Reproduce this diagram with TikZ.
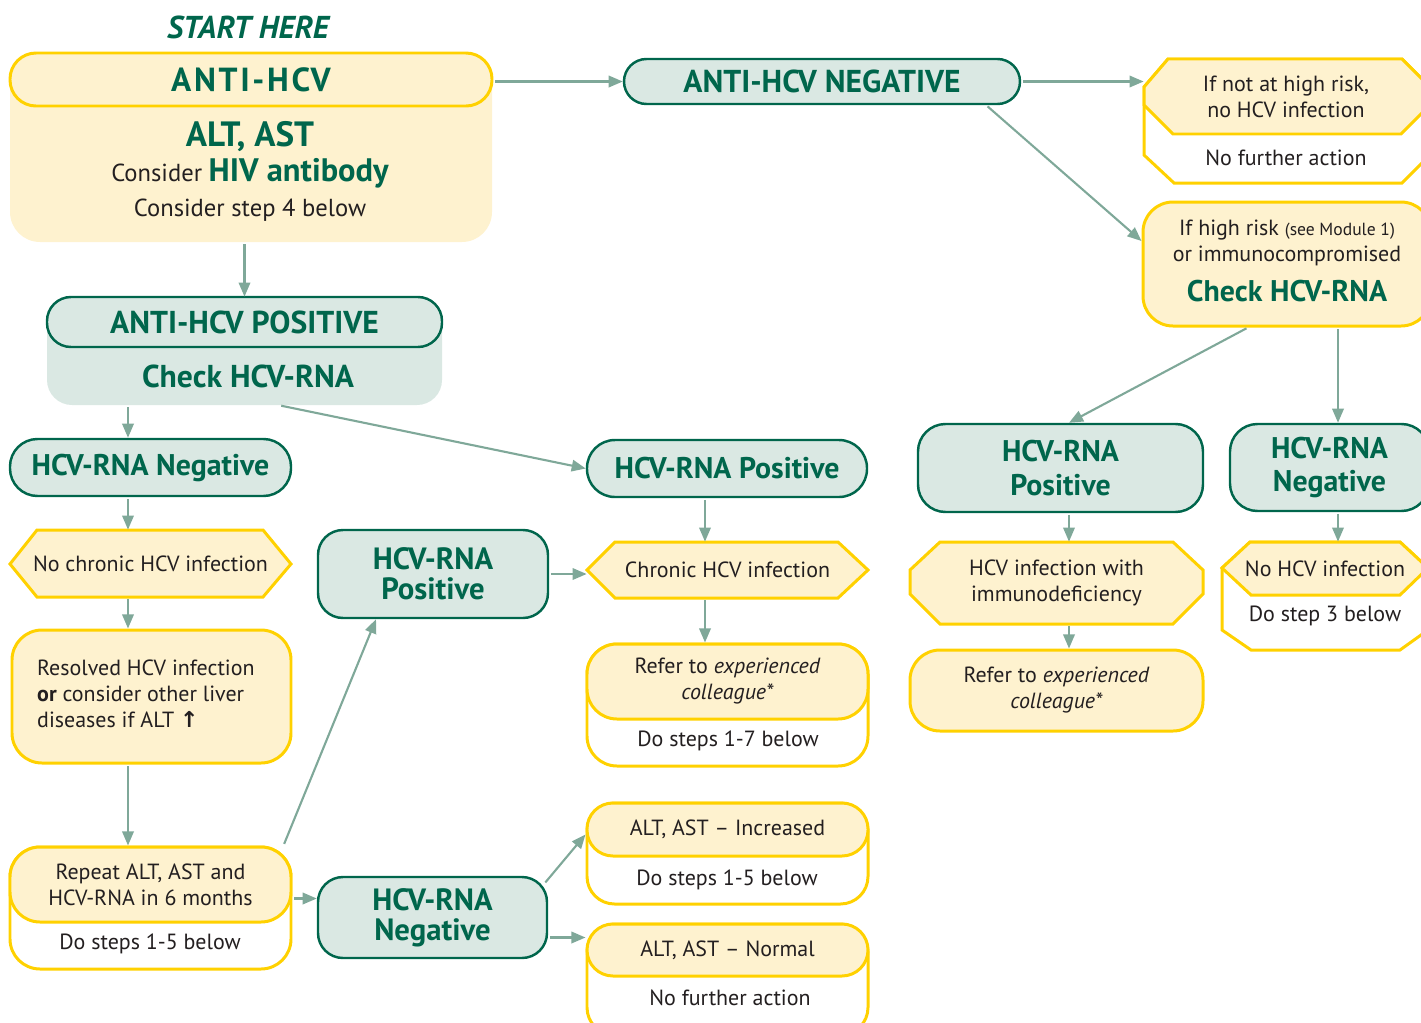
\documentclass[tikz,border=0pt]{standalone}
\usepackage{fontspec}
\setmainfont{PT Sans}
\newfontfamily\arrowfont{DejaVu Sans}
\usetikzlibrary{arrows.meta,fit}

\definecolor{hcvgreen}{HTML}{00664C}
\definecolor{arrowgreen}{HTML}{7FA899}
\definecolor{boxyellow}{HTML}{FEF2CF}
\definecolor{lineyellow}{HTML}{FFD100}
\definecolor{tealfill}{HTML}{DAE8E3}
\definecolor{textdark}{HTML}{231F20}

\tikzset{
  arr/.style={draw=arrowgreen, line width=1.2pt, shorten <=1pt, -{Triangle[length=8pt,width=6.5pt]}},
  yelbox/.style={draw=lineyellow, line width=1.7pt, fill=boxyellow, inner sep=0pt},
  whitebox/.style={draw=lineyellow, line width=1.7pt, fill=white, inner sep=0pt},
  tealbox/.style={draw=hcvgreen, line width=1.4pt, fill=tealfill, inner sep=0pt},
  bigtxt/.style={text=hcvgreen, font=\bfseries\fontsize{17}{19}\selectfont, align=center},
  txt/.style={text=textdark, font=\fontsize{12.5}{14.8}\selectfont, align=center},
}

\begin{document}
\begin{tikzpicture}[x=0.02cm, y=-0.02cm]
  \clip (0,0) rectangle (1421,1022);

  % start
  \node[text=hcvgreen, font=\bfseries\itshape\fontsize{18}{20}\selectfont] (start) at (248,27) {START HERE};

  % anti-hcv
  \node[fill=boxyellow, rounded corners=0.6cm, inner sep=0pt, fit={(10,53) (492,242)}] (anti) {};
  \node[yelbox, rounded corners=0.52cm, fit={(10,53) (492,106)}] (antihdr) {};
  \node[bigtxt, font=\bfseries\fontsize{19}{21}\selectfont\addfontfeature{LetterSpace=8}] (antihdrtxt) at (antihdr) {ANTI-HCV};
  \node[bigtxt, font=\bfseries\fontsize{20}{22}\selectfont] (altast) at (250,137) {ALT, AST};
  \node[txt, font=\fontsize{14}{16}\selectfont] (hivab) at (250,173) {Consider {\color{hcvgreen}\bfseries\fontsize{18.5}{20}\selectfont HIV antibody}};
  \node[txt, font=\fontsize{14}{16}\selectfont] (stepfour) at (250,210) {Consider step 4 below};

  % anti-hcv negative
  \node[tealbox, rounded corners=0.45cm, fit={(624,59) (1020,104)}] (antineg) {};
  \node[bigtxt, font=\bfseries\fontsize{18}{20}\selectfont] (antinegtxt) at (antineg) {ANTI-HCV NEGATIVE};

  % not at high risk
  \draw[whitebox] (1168,59) -- (1402,59) -- (1430,87) -- (1430,155) -- (1402,183)
    -- (1174,183) -- (1144,155) -- (1144,87) -- cycle;
  \draw[yelbox] (1168,59) -- (1402,59) -- (1430,87) -- (1430,105) -- (1401,134)
    -- (1173,134) -- (1144,105) -- (1144,87) -- cycle;
  \node[inner sep=0pt, fit={(1144,59) (1430,134)}] (notrisk) {};
  \node[txt] (notrisktxt) at (1286,97) {If not at high risk,\\no HCV infection};
  \node[txt] (notriskact) at (1286,158) {No further action};

  % high risk
  \node[yelbox, rounded corners=0.6cm, fit={(1143,202) (1431,326)}] (highrisk) {};
  \node[txt] (highrisktxt) at (1287,243) {If high risk {\fontsize{10}{12}\selectfont(see Module 1)}\\or immunocompromised};
  \node[bigtxt] (highriskchk) at (1287,291) {Check HCV-RNA};

  % anti-hcv positive
  \node[fill=tealfill, rounded corners=0.5cm, inner sep=0pt, fit={(47,297) (442,405)}] (antipos) {};
  \node[tealbox, rounded corners=0.48cm, fit={(47,297) (442,347)}] (antiposhdr) {};
  \node[bigtxt, font=\bfseries\fontsize{18}{20}\selectfont] (antiposhdrtxt) at (antiposhdr) {ANTI-HCV POSITIVE};
  \node[bigtxt, font=\bfseries\fontsize{18}{20}\selectfont] (antiposchk) at (248,376) {Check HCV-RNA};

  % left column
  \node[tealbox, rounded corners=0.55cm, fit={(10,439) (291,496)}] (rnaneg1) {};
  \node[bigtxt] (rnaneg1txt) at (rnaneg1) {HCV-RNA Negative};
  \draw[yelbox] (10,564) -- (37,530) -- (263,530) -- (291,564) -- (263,597) -- (37,597) -- cycle;
  \node[inner sep=0pt, fit={(10,530) (291,597)}] (nochronic) {};
  \node[txt] (nochronictxt) at (nochronic) {No chronic HCV infection};
  \node[yelbox, rounded corners=0.6cm, fit={(12,630) (291,763)}] (resolved) {};
  \node[txt, align=left, anchor=west] (resolvedtxt) at (31,694)
    {Resolved HCV infection\\\textbf{or} consider other liver\\diseases if ALT {\arrowfont\bfseries ↑}};
  \node[whitebox, rounded corners=0.6cm, fit={(10,847) (291,969)}] (repeat) {};
  \node[yelbox, rounded corners=0.6cm, fit={(10,847) (291,922)}] (repeathdr) {};
  \node[txt] (repeathdrtxt) at (repeathdr) {Repeat ALT, AST and\\HCV-RNA in 6 months};
  \node[txt] (repeatstep) at (150,944) {Do steps 1-5 below};

  % middle column
  \node[tealbox, rounded corners=0.5cm, fit={(318,530) (548,618)}] (rnapos2) {};
  \node[bigtxt, font=\bfseries\fontsize{17.5}{17}\selectfont] (rnapos2txt) at (rnapos2) {HCV-RNA\\Positive};
  \node[tealbox, rounded corners=0.5cm, fit={(318,877) (547,958)}] (rnaneg2) {};
  \node[bigtxt, font=\bfseries\fontsize{17.5}{17}\selectfont] (rnaneg2txt) at (rnaneg2) {HCV-RNA\\Negative};

  % chronic column
  \node[tealbox, rounded corners=0.56cm, fit={(587,440) (867,497)}] (rnapos1) {};
  \node[bigtxt] (rnapos1txt) at (rnapos1) {HCV-RNA Positive};
  \draw[yelbox] (587,570) -- (615,542) -- (838,542) -- (868,570) -- (838,598) -- (615,598) -- cycle;
  \node[inner sep=0pt, fit={(587,542) (868,598)}] (chronic) {};
  \node[txt] (chronictxt) at (chronic) {Chronic HCV infection};
  \node[whitebox, rounded corners=0.6cm, fit={(587,644) (868,766)}] (refer1) {};
  \node[yelbox, rounded corners=0.6cm, fit={(587,644) (868,719)}] (refer1hdr) {};
  \node[txt] (refer1txt) at (refer1hdr) {Refer to \textit{experienced}\\\textit{colleague*}};
  \node[txt] (refer1step) at (728,741) {Do steps 1-7 below};
  \node[whitebox, rounded corners=0.55cm, fit={(587,803) (868,904)}] (altinc) {};
  \node[yelbox, rounded corners=0.52cm, fit={(587,803) (868,856)}] (althdr) {};
  \node[txt] (althdrtxt) at (althdr) {ALT, AST – Increased};
  \node[txt] (altincstep) at (727,880) {Do steps 1-5 below};
  \node[whitebox, rounded corners=0.55cm, fit={(587,924) (868,1035)}] (altnorm) {};
  \node[yelbox, rounded corners=0.52cm, fit={(587,924) (868,976)}] (normhdr) {};
  \node[txt] (normhdrtxt) at (normhdr) {ALT, AST – Normal};
  \node[txt] (altnormact) at (730,998) {No further action};

  % right columns
  \node[tealbox, rounded corners=0.55cm, fit={(918,424) (1203,512)}] (rnapos3) {};
  \node[bigtxt] (rnapos3txt) at (rnapos3) {HCV-RNA\\Positive};
  \node[tealbox, rounded corners=0.55cm, fit={(1230,424) (1429,511)}] (rnaneg3) {};
  \node[bigtxt] (rnaneg3txt) at (rnaneg3) {HCV-RNA\\Negative};
  \draw[yelbox] (910,570) -- (940,542) -- (1173,542) -- (1203,570) -- (1203,594) -- (1173,624)
    -- (940,624) -- (910,594) -- cycle;
  \node[inner sep=0pt, fit={(910,542) (1203,624)}] (immuno) {};
  \node[txt] (immunotxt) at (immuno) {HCV infection with\\immunodeficiency};
  \node[yelbox, rounded corners=0.6cm, fit={(910,650) (1203,731)}] (refer2) {};
  \node[txt] (refer2txt) at (refer2) {Refer to \textit{experienced}\\\textit{colleague*}};
  \draw[whitebox] (1222,568) -- (1250,542) -- (1400,542) -- (1428,568) -- (1428,630) -- (1400,650)
    -- (1251,650) -- (1222,630) -- cycle;
  \draw[yelbox] (1222,568) -- (1250,542) -- (1400,542) -- (1428,568) -- (1400,595) -- (1251,595) -- cycle;
  \node[inner sep=0pt, fit={(1222,542) (1428,595)}] (nohcv) {};
  \node[txt] (nohcvtxt) at (nohcv) {No HCV infection};
  \node[txt] (nohcvstep) at (1325,616) {Do step 3 below};

  % column positions
  \coordinate (colA) at (128,0);
  \coordinate (colB) at (705,0);
  \coordinate (colC) at (1069,0);
  \coordinate (colD) at (1338,0);

  % arrows
  \draw[arr] (antihdr.east |- antineg.west) -- (antineg.west);
  \draw[arr] (antineg.east) -- (antineg.east -| notrisk.west);
  \draw[arr] ([xshift=-0.7cm]antineg.south east) -- ([yshift=0.46cm]highrisk.west);
  \draw[arr] (anti.south -| antipos.north) -- (antipos.north);
  \draw[arr] (antipos.south -| colA) -- (rnaneg1.north -| colA);
  \draw[arr] ([xshift=0.7cm]antipos.south) -- (rnapos1.west);
  \draw[arr] (rnaneg1.south -| colA) -- (nochronic.north -| colA);
  \draw[arr] (nochronic.south -| colA) -- (resolved.north -| colA);
  \draw[arr] (resolved.south -| colA) -- (repeat.north -| colA);
  \draw[arr] ([xshift=-0.18cm]repeat.north east) -- ([xshift=-1.14cm]rnapos2.south);
  \coordinate (rep) at ([yshift=-0.28cm]repeathdr.east);
  \draw[arr] (rep) -- (rep -| rnaneg2.west);
  \draw[arr] (rnapos2.east) -- (rnapos2.east -| chronic.west);
  \draw[arr] (rnapos1.south -| colB) -- (chronic.north -| colB);
  \draw[arr] (chronic.south -| colB) -- (refer1.north -| colB);
  \draw[arr] ([shift={(-0.08cm,-0.16cm)}]rnaneg2.north east) -- ([yshift=-0.1cm]althdr.west);
  \coordinate (neg2) at ([yshift=-0.4cm]rnaneg2.east);
  \draw[arr] (neg2) -- (neg2 -| normhdr.west);
  \draw[arr] ([xshift=-0.78cm]highrisk.south) -- (rnapos3.north -| colC);
  \draw[arr] (highrisk.south -| colD) -- (rnaneg3.north -| colD);
  \draw[arr] (rnapos3.south -| colC) -- (immuno.north -| colC);
  \draw[arr] (rnaneg3.south -| colD) -- (nohcv.north -| colD);
  \draw[arr] (immuno.south -| colC) -- (refer2.north -| colC);
\end{tikzpicture}
\end{document}
